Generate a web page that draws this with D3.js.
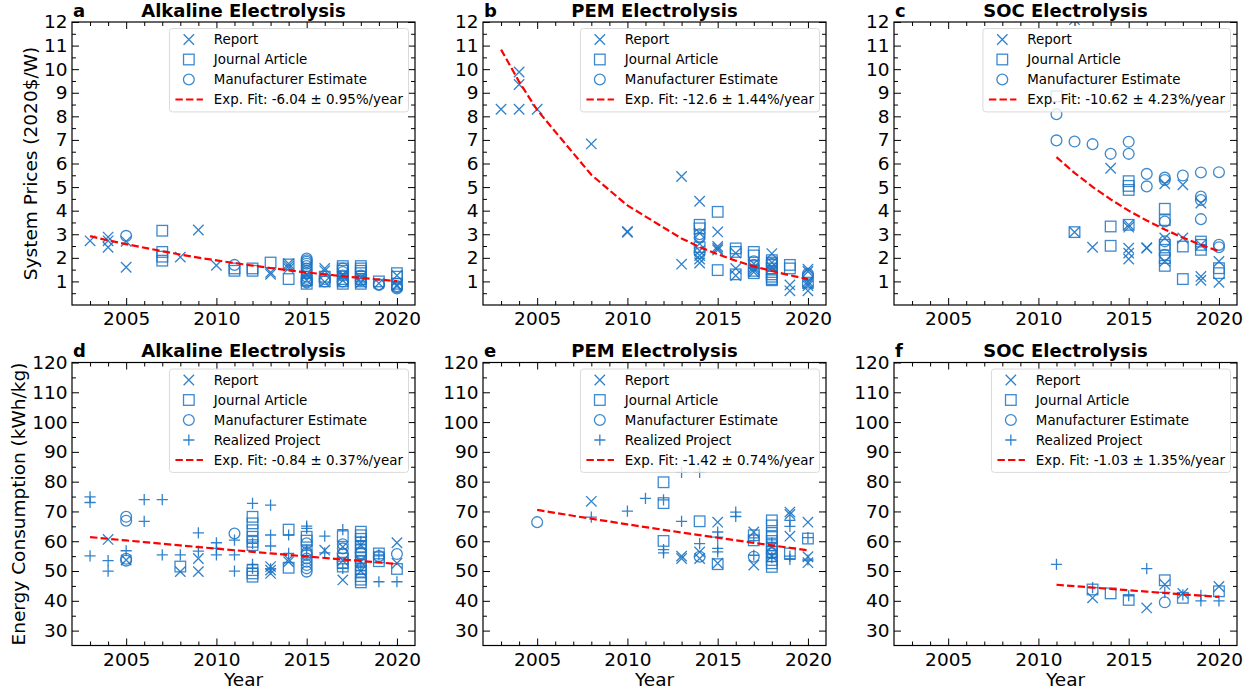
<!DOCTYPE html>
<html><head><meta charset="utf-8">
<script src="https://cdn.jsdelivr.net/npm/d3@7"></script>
<style>
body{margin:0;background:#fff;}
svg{display:block;font-family:"DejaVu Sans",sans-serif;}
</style></head>
<body><svg id="chart" width="1257" height="695"></svg>
<script>
// ---------- DATA ----------
const xTicksMajor = [2005, 2010, 2015, 2020];
const priceTicks = [1,2,3,4,5,6,7,8,9,10,11,12];
const energyTicks = [30,40,50,60,70,80,90,100,110,120];

// a: Alkaline system prices
const a_report = [[2003,2.72],[2004,2.88],[2004,2.72],[2004,2.45],[2005,2.70],[2005,1.60],[2008,2.03],[2009,3.18],[2010,1.68],[2013,1.38],[2013,1.30],[2014,1.75],[2014,1.65],[2014,1.55],[2015,1.30],[2015,1.05],[2016,1.55],[2016,1.45],[2016,0.98],[2017,1.30],[2017,1.20],[2017,1.05],[2018,1.15],[2018,0.95],[2019,0.92],[2020,1.25],[2020,0.85],[2020,0.80]];
const a_journal = [[2007,3.15],[2007,2.25],[2007,2.05],[2007,1.88],[2011,1.55],[2011,1.45],[2012,1.55],[2012,1.45],[2013,1.80],[2014,1.72],[2014,1.10],[2015,1.05],[2015,0.90],[2016,1.20],[2016,1.00],[2017,1.65],[2017,1.55],[2017,1.45],[2017,1.10],[2017,1.00],[2017,0.90],[2018,1.65],[2018,1.55],[2018,1.45],[2018,1.35],[2018,1.20],[2018,1.10],[2018,1.00],[2018,0.90],[2019,1.00],[2020,1.35],[2020,1.20],[2020,0.90]];
const a_manuf = [[2005,2.93],[2011,1.70],[2015,1.97],[2015,1.90],[2015,1.83],[2015,1.75],[2015,1.65],[2015,1.55],[2015,1.45],[2015,1.35],[2015,1.20],[2015,1.10],[2015,1.00],[2015,0.95],[2016,1.10],[2016,1.00],[2017,1.55],[2017,1.40],[2017,1.25],[2017,1.00],[2018,1.25],[2018,1.05],[2019,0.88],[2019,0.85],[2020,0.75],[2020,0.70],[2020,0.80]];
const a_fitYears = [2003,2004,2005,2007,2008,2009,2010,2011,2012,2013,2014,2015,2016,2017,2018,2019,2020];
const a_fitVals  = [2.92,2.74,2.58,2.28,2.14,2.01,1.89,1.78,1.67,1.57,1.47,1.38,1.30,1.22,1.15,1.08,1.01];

// b: PEM system prices
const b_report = [[2003,8.30],[2004,9.88],[2004,9.35],[2004,8.30],[2005,8.30],[2008,6.83],[2010,3.12],[2010,3.08],[2013,5.45],[2013,1.73],[2014,4.40],[2014,3.05],[2014,2.60],[2014,2.30],[2014,2.10],[2014,1.95],[2014,1.78],[2015,3.10],[2015,2.48],[2015,2.40],[2015,2.33],[2016,2.20],[2016,1.55],[2016,1.25],[2017,1.75],[2017,1.60],[2017,1.50],[2017,1.40],[2018,2.18],[2018,1.80],[2018,1.60],[2019,0.85],[2019,0.60],[2020,1.52],[2020,1.42],[2020,1.00],[2020,0.90],[2020,0.82],[2020,0.60]];
const b_journal = [[2014,3.40],[2014,3.25],[2014,2.45],[2015,3.95],[2015,1.48],[2016,2.40],[2016,2.25],[2016,1.30],[2017,2.25],[2017,2.10],[2017,1.45],[2017,1.35],[2018,1.90],[2018,1.80],[2018,1.70],[2018,1.55],[2018,1.40],[2018,1.30],[2018,1.20],[2018,1.10],[2018,1.05],[2019,1.70],[2019,1.55],[2020,0.95]];
const b_manuf = [[2014,3.00],[2014,2.85],[2014,2.20],[2017,1.85],[2017,1.70],[2018,1.75],[2020,1.32],[2020,1.25]];
const b_fitYears = [2003,2004,2005,2008,2010,2013,2014,2015,2016,2017,2018,2019,2020];
const b_fitVals  = [10.83,9.47,8.27,5.52,4.22,2.82,2.46,2.15,1.88,1.64,1.44,1.26,1.10];

// c: SOC system prices
const c_report = [[2012,12.1],[2012,3.09],[2013,2.45],[2014,5.80],[2015,3.40],[2015,3.30],[2015,2.41],[2015,2.20],[2015,1.95],[2016,2.41],[2016,2.43],[2017,5.14],[2017,2.84],[2017,1.85],[2018,5.10],[2018,2.84],[2019,4.32],[2019,2.55],[2019,1.21],[2019,1.05],[2020,1.85],[2020,0.96]];
const c_journal = [[2011,8.85],[2012,3.09],[2014,3.33],[2014,2.51],[2015,5.25],[2015,5.05],[2015,4.88],[2015,3.40],[2017,4.08],[2017,3.60],[2017,2.55],[2017,2.34],[2017,1.99],[2017,1.66],[2018,2.48],[2018,1.10],[2019,2.69],[2019,2.55],[2019,2.34],[2020,1.56],[2020,1.35]];
const c_manuf = [[2011,8.09],[2011,6.98],[2012,6.93],[2013,6.82],[2014,6.41],[2015,6.92],[2015,6.41],[2016,5.56],[2016,5.03],[2017,5.40],[2017,5.30],[2017,3.54],[2017,2.70],[2017,2.13],[2018,5.49],[2019,5.62],[2019,4.60],[2019,4.45],[2019,3.64],[2020,5.63],[2020,2.55],[2020,2.45]];
const c_fitYears = [2011,2012,2013,2014,2015,2016,2017,2018,2019,2020];
const c_fitVals  = [6.27,5.60,5.01,4.48,4.00,3.58,3.20,2.86,2.55,2.28];

// d: Alkaline energy consumption
const d_report = [[2004,60.6],[2005,53.7],[2008,49.8],[2009,54.2],[2009,49.8],[2013,51.5],[2013,50.3],[2013,49.2],[2014,53.9],[2014,53.1],[2016,57.0],[2017,58.1],[2017,47.0],[2017,53.5],[2018,58.7],[2018,53.1],[2018,50.0],[2020,59.5],[2020,52.6]];
const d_journal = [[2008,51.5],[2012,68.2],[2012,66.0],[2012,63.7],[2012,61.5],[2012,59.8],[2012,58.7],[2012,50.3],[2012,49.2],[2012,48.1],[2014,63.9],[2014,51.1],[2015,61.5],[2015,60.2],[2015,57.0],[2017,61.7],[2017,54.2],[2017,52.8],[2017,51.5],[2018,63.2],[2018,62.0],[2018,60.8],[2018,59.5],[2018,58.2],[2018,57.0],[2018,55.7],[2018,54.4],[2018,53.2],[2018,52.0],[2018,50.8],[2018,49.5],[2018,48.3],[2018,47.1],[2018,46.2],[2019,55.9],[2019,54.6],[2019,53.3],[2020,50.7]];
const d_manuf = [[2005,68.2],[2005,66.9],[2005,54.1],[2005,53.5],[2011,62.6],[2015,59.3],[2015,56.1],[2015,55.4],[2015,54.2],[2015,53.1],[2015,52.0],[2015,50.9],[2015,49.8],[2017,59.0],[2017,57.6],[2017,55.9],[2018,56.0],[2019,55.0],[2020,55.7]];
const d_realized = [[2003,74.9],[2003,73.0],[2003,55.1],[2004,53.5],[2004,50.0],[2005,56.8],[2006,74.0],[2006,66.7],[2007,74.0],[2007,55.4],[2008,55.4],[2009,62.8],[2009,56.7],[2010,59.5],[2010,57.6],[2010,55.4],[2011,60.4],[2011,55.4],[2011,50.0],[2012,72.7],[2012,59.3],[2012,52.2],[2012,50.9],[2013,72.1],[2013,62.1],[2013,58.4],[2013,50.7],[2014,62.1],[2014,55.9],[2015,65.1],[2015,64.3],[2015,57.0],[2016,61.7],[2016,56.1],[2017,63.9],[2017,50.9],[2018,60.0],[2018,52.0],[2019,55.4],[2019,46.4],[2020,46.4]];
const d_fitYears = [2003,2004,2005,2006,2007,2008,2009,2010,2011,2012,2013,2014,2015,2016,2017,2018,2019,2020];
const d_fitVals  = [61.4,60.83,60.26,59.70,59.15,58.60,58.05,57.51,56.98,56.45,55.92,55.40,54.89,54.38,53.87,53.37,52.87,52.38];

// e: PEM energy consumption
const e_report = [[2008,73.4],[2013,55.0],[2013,54.2],[2014,56.4],[2014,54.2],[2015,66.4],[2015,52.6],[2017,63.1],[2017,52.0],[2018,58.1],[2018,55.0],[2019,69.8],[2019,69.0],[2019,61.7],[2020,66.4],[2020,54.8],[2020,52.8]];
const e_journal = [[2012,79.8],[2012,72.8],[2012,60.1],[2014,66.7],[2015,52.3],[2017,62.0],[2017,60.3],[2018,67.0],[2018,65.3],[2018,62.8],[2018,61.4],[2018,60.1],[2018,58.7],[2018,57.6],[2018,56.4],[2018,55.0],[2018,53.7],[2018,52.6],[2018,51.4],[2019,55.9],[2020,60.9]];
const e_manuf = [[2005,66.4],[2014,54.8],[2017,54.8],[2018,56.0]];
const e_realized = [[2008,68.1],[2010,70.1],[2011,74.4],[2012,73.9],[2012,57.2],[2012,56.1],[2013,83.1],[2013,66.7],[2014,83.1],[2014,59.2],[2015,63.1],[2015,61.4],[2015,57.6],[2015,56.4],[2016,69.8],[2016,68.3],[2017,61.1],[2017,55.3],[2018,59.5],[2018,54.5],[2019,67.0],[2019,65.0],[2019,55.0],[2019,53.9],[2020,61.2],[2020,53.7]];
const e_fitYears = [2005,2008,2010,2011,2012,2013,2014,2015,2016,2017,2018,2019,2020];
const e_fitVals  = [70.5,67.56,65.67,64.74,63.83,62.93,62.04,61.17,60.31,59.46,58.62,57.79,56.98];

// f: SOC energy consumption
const f_report = [[2013,41.0],[2016,37.6],[2017,45.5],[2018,42.5],[2020,44.8]];
const f_journal = [[2013,43.8],[2014,42.5],[2015,40.3],[2017,46.9],[2018,41.0],[2020,43.2]];
const f_manuf = [[2017,39.5]];
const f_realized = [[2011,52.2],[2013,44.4],[2015,41.7],[2016,50.8],[2017,42.8],[2018,42.0],[2019,41.8],[2019,40.0],[2020,40.0]];
const f_fitYears = [2011,2013,2014,2015,2016,2017,2018,2019,2020];
const f_fitVals  = [45.4,44.46,43.99,43.53,43.08,42.63,42.18,41.74,41.30];

const fitLabels = ["Exp. Fit: -6.04 \u00b1 0.95%/year","Exp. Fit: -12.6 \u00b1 1.44%/year","Exp. Fit: -10.62 \u00b1 4.23%/year",
                   "Exp. Fit: -0.84 \u00b1 0.37%/year","Exp. Fit: -1.42 \u00b1 0.74%/year","Exp. Fit: -1.03 \u00b1 1.35%/year"];
const seriesNames = {report:"Report", journal:"Journal Article", manuf:"Manufacturer Estimate", realized:"Realized Project"};

// ---------- LAYOUT ----------
const svg = d3.select("#chart");
const colLeft = [72, 483, 894], rowTop = [22, 362.5], plotW = 343, plotH = 283;
const BLUE = "#1b74c5", RED = "#ff0000";
const FS = 18.5, TFS = 18, LFS = 13.4;

const panels = [
  {id:"a", title:"Alkaline Electrolysis", r:0, c:0, s:{report:a_report, journal:a_journal, manuf:a_manuf}, fy:a_fitYears, fv:a_fitVals},
  {id:"b", title:"PEM Electrolysis", r:0, c:1, s:{report:b_report, journal:b_journal, manuf:b_manuf}, fy:b_fitYears, fv:b_fitVals},
  {id:"c", title:"SOC Electrolysis", r:0, c:2, s:{report:c_report, journal:c_journal, manuf:c_manuf}, fy:c_fitYears, fv:c_fitVals},
  {id:"d", title:"Alkaline Electrolysis", r:1, c:0, s:{report:d_report, journal:d_journal, manuf:d_manuf, realized:d_realized}, fy:d_fitYears, fv:d_fitVals},
  {id:"e", title:"PEM Electrolysis", r:1, c:1, s:{report:e_report, journal:e_journal, manuf:e_manuf, realized:e_realized}, fy:e_fitYears, fv:e_fitVals},
  {id:"f", title:"SOC Electrolysis", r:1, c:2, s:{report:f_report, journal:f_journal, manuf:f_manuf, realized:f_realized}, fy:f_fitYears, fv:f_fitVals},
];

function drawMarker(g, type, x, y) {
  const sw = 1.3;
  if (type === "report") {
    const s = 5.2;
    g.append("path").attr("d", `M${x-s},${y-s}L${x+s},${y+s}M${x-s},${y+s}L${x+s},${y-s}`)
      .attr("stroke", BLUE).attr("stroke-width", sw).attr("fill","none").attr("stroke-opacity",0.9);
  } else if (type === "journal") {
    const s = 5.3;
    g.append("rect").attr("x", x-s).attr("y", y-s).attr("width", 2*s).attr("height", 2*s)
      .attr("stroke", BLUE).attr("stroke-width", sw).attr("fill","none").attr("stroke-opacity",0.85);
  } else if (type === "manuf") {
    g.append("circle").attr("cx", x).attr("cy", y).attr("r", 5.4)
      .attr("stroke", BLUE).attr("stroke-width", sw).attr("fill","none").attr("stroke-opacity",0.85);
  } else {
    const s = 5.6;
    g.append("path").attr("d", `M${x-s},${y}L${x+s},${y}M${x},${y-s}L${x},${y+s}`)
      .attr("stroke", BLUE).attr("stroke-width", sw).attr("fill","none").attr("stroke-opacity",0.9);
  }
}

panels.forEach((p, i) => {
  const L = colLeft[p.c], T = rowTop[p.r];
  const g = svg.append("g").attr("transform", `translate(${L},${T})`);
  const x = d3.scaleLinear().domain([2002, 2021]).range([0, plotW]);
  const y = p.r === 0 ? d3.scaleLinear().domain([0, 12]).range([plotH, 0])
                      : d3.scaleLinear().domain([25, 120]).range([plotH, 0]);
  const majorY = p.r === 0 ? priceTicks : energyTicks;
  const minorY = p.r === 0 ? d3.range(0.5, 12, 1) : d3.range(35, 120, 10);
  const minorX = d3.range(2003, 2021).filter(v => v % 5 !== 0);

  // clip
  svg.append("clipPath").attr("id", "clip"+p.id).append("rect").attr("x",0).attr("y",0).attr("width",plotW).attr("height",plotH);
  const data = g.append("g").attr("clip-path", `url(#clip${p.id})`);

  // markers
  Object.keys(p.s).forEach(type => {
    p.s[type].forEach(d => drawMarker(data, type, x(d[0]), y(d[1])));
  });
  // fit line
  const fit = p.fy.map((yr, k) => [yr, p.fv[k]]);
  data.append("path").datum(fit)
    .attr("d", d3.line().x(d => x(d[0])).y(d => y(d[1])))
    .attr("fill","none").attr("stroke", RED).attr("stroke-width", 2.2).attr("stroke-dasharray","7.4,3.2");

  // axes
  const styleAxis = sel => {
    sel.select(".domain").remove();
    sel.selectAll(".tick line").attr("stroke", "#000").attr("stroke-width", 1);
    sel.selectAll(".tick text").attr("font-size", FS).attr("fill","#000").attr("font-family","DejaVu Sans");
  };
  g.append("g").attr("transform", `translate(0,${plotH})`)
    .call(d3.axisBottom(x).tickValues(xTicksMajor).tickFormat(d3.format("d")).tickSize(-7).tickPadding(7)).call(styleAxis);
  g.append("g").attr("transform", `translate(0,${plotH})`)
    .call(d3.axisBottom(x).tickValues(minorX).tickFormat("").tickSize(-4)).call(styleAxis);
  g.append("g").call(d3.axisTop(x).tickValues(xTicksMajor).tickFormat("").tickSize(-7)).call(styleAxis);
  g.append("g").call(d3.axisTop(x).tickValues(minorX).tickFormat("").tickSize(-4)).call(styleAxis);
  g.append("g").call(d3.axisLeft(y).tickValues(majorY).tickFormat(d3.format("d")).tickSize(-7).tickPadding(4.5)).call(styleAxis);
  g.append("g").call(d3.axisLeft(y).tickValues(minorY).tickFormat("").tickSize(-4)).call(styleAxis);
  g.append("g").attr("transform", `translate(${plotW},0)`).call(d3.axisRight(y).tickValues(majorY).tickFormat("").tickSize(-7)).call(styleAxis);
  g.append("g").attr("transform", `translate(${plotW},0)`).call(d3.axisRight(y).tickValues(minorY).tickFormat("").tickSize(-4)).call(styleAxis);

  // frame
  g.append("rect").attr("width", plotW).attr("height", plotH).attr("fill","none").attr("stroke","#000").attr("stroke-width",1.2);

  // titles
  g.append("text").attr("x", 1).attr("y", -5.2).attr("font-size", TFS).attr("font-weight","bold").text(p.id);
  g.append("text").attr("x", plotW/2).attr("y", -5.2).attr("text-anchor","middle").attr("font-size", TFS).attr("font-weight","bold").text(p.title);

  // axis labels
  if (p.r === 1) {
    g.append("text").attr("x", plotW/2).attr("y", plotH + 40.5).attr("text-anchor","middle").attr("font-size", FS).text("Year");
  }
  if (p.c === 0) {
    const lx = p.r === 0 ? -35 : -47;
    g.append("text").attr("transform", `translate(${lx},${plotH/2}) rotate(-90)`).attr("text-anchor","middle")
      .attr("font-size", FS).text(p.r === 0 ? "System Prices (2020$/W)" : "Energy Consumption (kWh/kg)");
  }

  // legend
  const entries = Object.keys(p.s).map(k => ({type:k, label:seriesNames[k]}));
  entries.push({type:"fit", label:fitLabels[i]});
  const lg = g.append("g");
  const box = lg.append("rect");
  const texts = [];
  entries.forEach((e, k) => {
    const cy = 6.5 + 11 + 20*k;
    const t = lg.append("text").attr("y", cy).attr("dy","0.35em").attr("font-size", LFS).text(e.label);
    texts.push(t);
  });
  const maxW = d3.max(texts, t => t.node().getComputedTextLength());
  const bw = maxW + 44.4 + 5.5;
  const bx = plotW - 6.5 - bw, by = 6.5;
  box.attr("x", bx).attr("y", by).attr("width", bw).attr("height", entries.length*20 + 3.4)
    .attr("rx", 3).attr("fill", "#fff").attr("fill-opacity", 0.8).attr("stroke", "#d6d6d6").attr("stroke-width", 0.9);
  texts.forEach(t => t.attr("x", bx + 44.4));
  entries.forEach((e, k) => {
    const cy = 6.5 + 11 + 20*k;
    if (e.type === "fit") {
      lg.append("path").attr("d", `M${bx+6},${cy}L${bx+33.5},${cy}`).attr("stroke", RED)
        .attr("stroke-width", 2.2).attr("stroke-dasharray","7.4,3.2");
    } else {
      drawMarker(lg, e.type, bx + 19.4, cy);
    }
  });
});
</script>
</body></html>
